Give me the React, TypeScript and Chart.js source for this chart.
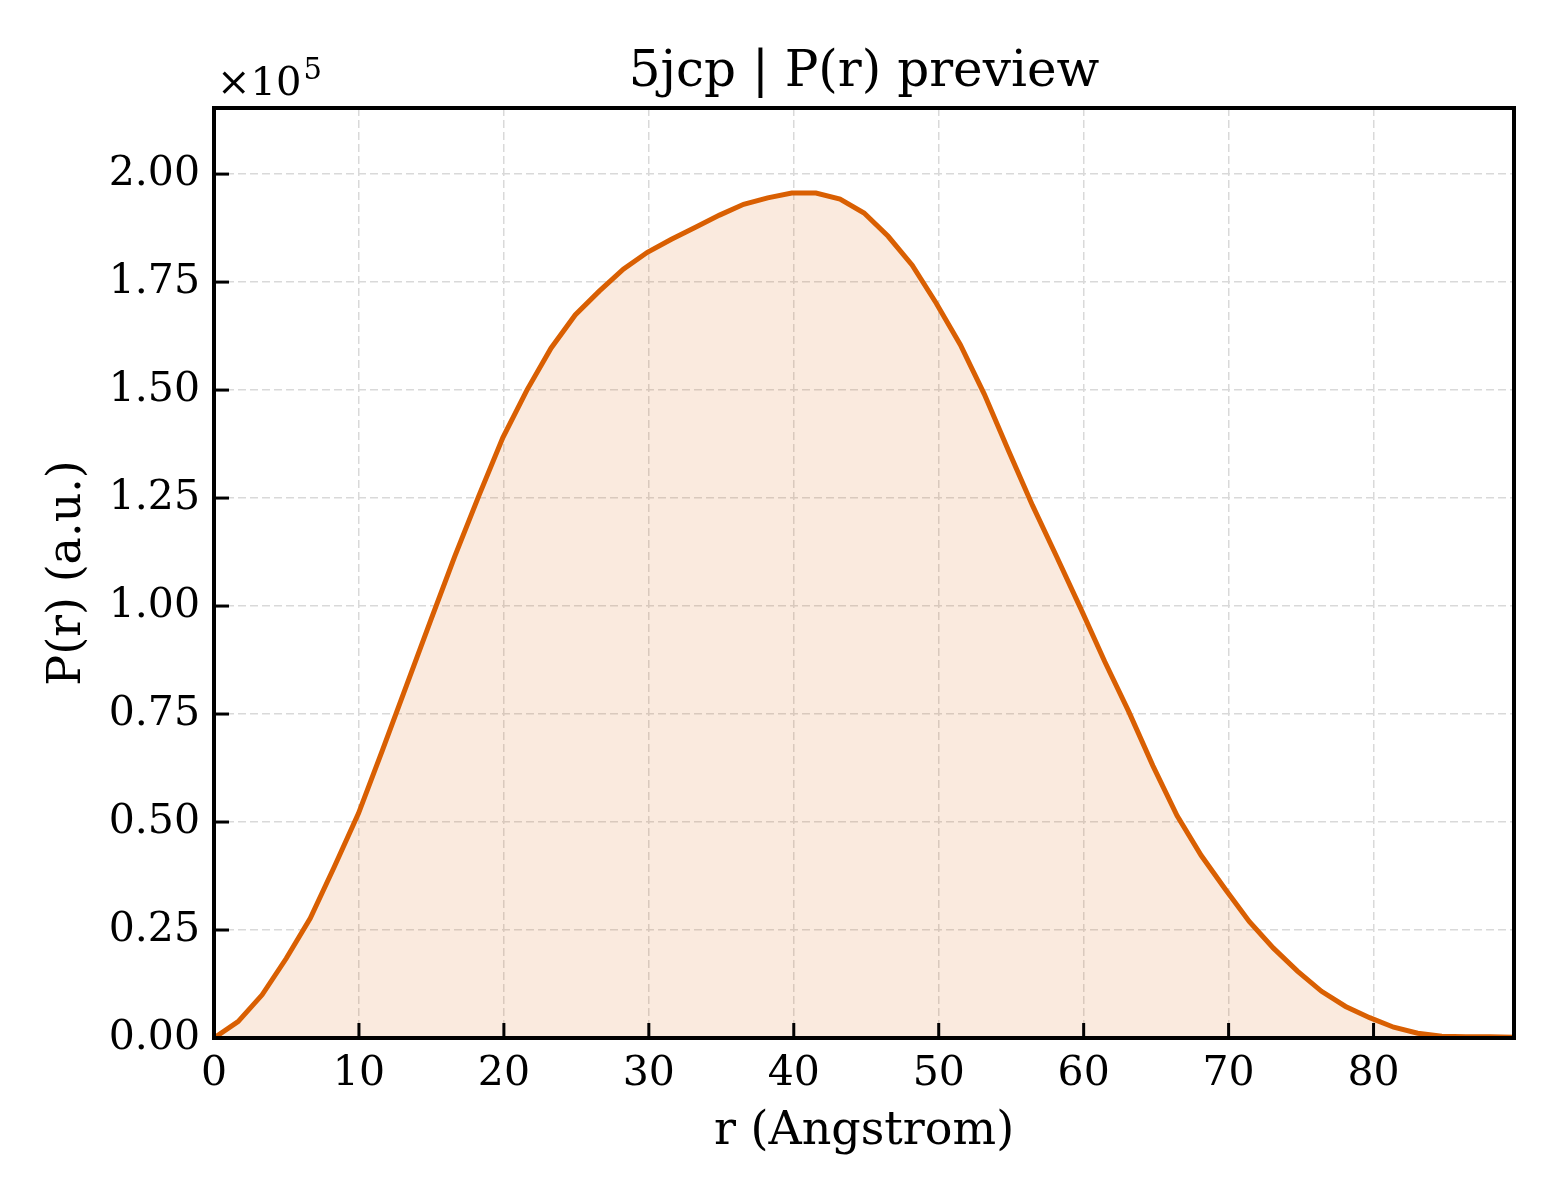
import React, { useEffect, useRef } from "react";
import { Chart, registerables, Plugin, ChartConfiguration } from "chart.js";

Chart.register(...registerables);

// r grid (Angstrom)
const rValues = [
  0, 1.66, 3.32, 4.98, 6.64, 8.31, 9.97, 11.63, 13.29, 14.95, 16.61, 18.27,
  19.93, 21.59, 23.25, 24.92, 26.58, 28.24, 29.9, 31.56, 33.22, 34.88, 36.54,
  38.2, 39.86, 41.53, 43.19, 44.85, 46.51, 48.17, 49.83, 51.49, 53.15, 54.81,
  56.47, 58.14, 59.8, 61.46, 63.12, 64.78, 66.44, 68.1, 69.76, 71.42, 73.09,
  74.75, 76.41, 78.07, 79.73, 81.39, 83.05, 84.71, 86.37, 88.03, 89.69,
];

// P(r), arbitrary units
const prValues = [
  0, 3800, 10000, 18400, 27700, 39700, 52000, 66700, 81700, 96700, 111500,
  125500, 139000, 150000, 159700, 167400, 172900, 178000, 181900, 184900,
  187700, 190500, 193000, 194500, 195600, 195600, 194200, 191000, 185600,
  178900, 170100, 160500, 149000, 136000, 123300, 111400, 99400, 87100, 75500,
  63000, 51500, 42300, 34500, 27000, 20800, 15500, 10800, 7300, 4700, 2500,
  1100, 400, 300, 300, 200,
];

const xTicks = [0, 10, 20, 30, 40, 50, 60, 70, 80];
const yTicks = [0, 25000, 50000, 75000, 100000, 125000, 150000, 175000, 200000];

const xMax = 89.69;
const yMax = 215300;

const FONT = "'DejaVu Serif', serif";
const LINE_COLOR = "#d95f02";
const GRID_COLOR = "#d9d9d9";

const frameAndTitle: Plugin<"line"> = {
  id: "frameAndTitle",
  afterDraw(chart) {
    const { ctx, chartArea: a, scales } = chart;
    ctx.save();
    ctx.setLineDash([]);
    ctx.fillStyle = "#000";
    ctx.strokeStyle = "#000";

    // inward ticks on left and bottom
    xTicks.forEach((v) => {
      const px = scales.x.getPixelForValue(v);
      ctx.fillRect(px - 1.5, a.bottom - 15, 3, 15);
    });
    yTicks.forEach((v) => {
      const py = scales.y.getPixelForValue(v);
      ctx.fillRect(a.left, py - 1.5, 15, 3);
    });

    // frame
    ctx.lineWidth = 4;
    ctx.strokeRect(a.left, a.top, a.right - a.left, a.bottom - a.top);

    // title
    ctx.font = `50px ${FONT}`;
    ctx.textAlign = "center";
    ctx.textBaseline = "alphabetic";
    ctx.fillText("5jcp | P(r) preview", (a.left + a.right) / 2, 86);

    // offset label x10^5
    ctx.textAlign = "left";
    ctx.font = `40px ${FONT}`;
    const base = "×10";
    ctx.fillText(base, a.left + 3, 95);
    const w = ctx.measureText(base).width;
    ctx.font = `29px ${FONT}`;
    ctx.fillText("5", a.left + 5 + w, 79);
    ctx.restore();
  },
};

export default function App() {
  const canvasRef = useRef<HTMLCanvasElement | null>(null);

  useEffect(() => {
    document.body.style.margin = "0";
    const ctx = canvasRef.current?.getContext("2d");
    if (!ctx) return;

    const config: ChartConfiguration<"line"> = {
      type: "line",
      data: {
        datasets: [
          {
            data: rValues.map((r, i) => ({ x: r, y: prValues[i] })),
            borderColor: LINE_COLOR,
            borderWidth: 5,
            backgroundColor: "rgba(217,95,2,0.13)",
            fill: "origin",
            pointRadius: 0,
            tension: 0,
          },
        ],
      },
      options: {
        animation: false,
        responsive: true,
        maintainAspectRatio: false,
        layout: { padding: { top: 108, right: 46, left: 0, bottom: 0 } },
        plugins: {
          legend: { display: false },
          tooltip: { enabled: false },
        },
        scales: {
          x: {
            type: "linear",
            min: 0,
            max: xMax,
            afterBuildTicks: (scale) => {
              scale.ticks = xTicks.map((v) => ({ value: v }));
            },
            afterFit: (scale) => {
              scale.height = 162;
            },
            ticks: {
              padding: 12,
              color: "#000",
              font: { family: FONT, size: 41 },
              maxRotation: 0,
              autoSkip: false,
              callback: (v) => String(v),
            },
            grid: {
              color: GRID_COLOR,
              lineWidth: 1.5,
              drawTicks: false,
            },
            border: { display: false, dash: [8, 4] },
            title: {
              display: true,
              text: "r (Angstrom)",
              color: "#000",
              font: { family: FONT, size: 46 },
              padding: { top: 0, bottom: 40 },
            },
          },
          y: {
            type: "linear",
            min: 0,
            max: yMax,
            afterBuildTicks: (scale) => {
              scale.ticks = yTicks.map((v) => ({ value: v }));
            },
            afterFit: (scale) => {
              scale.width = 214;
            },
            ticks: {
              padding: 14,
              color: "#000",
              font: { family: FONT, size: 41 },
              autoSkip: false,
              callback: (v) => (Number(v) / 1e5).toFixed(2),
            },
            grid: {
              color: GRID_COLOR,
              lineWidth: 1.5,
              drawTicks: false,
            },
            border: { display: false, dash: [8, 4] },
            title: {
              display: true,
              text: "P(r) (a.u.)",
              color: "#000",
              font: { family: FONT, size: 46 },
              padding: { top: 40, bottom: 0 },
            },
          },
        },
      },
      plugins: [frameAndTitle],
    };

    const chart = new Chart(ctx, config);
    return () => {
      chart.destroy();
    };
  }, []);

  return (
    <div style={{ width: "1560px", height: "1200px", position: "relative", background: "#fff" }}>
      <canvas ref={canvasRef} />
    </div>
  );
}
